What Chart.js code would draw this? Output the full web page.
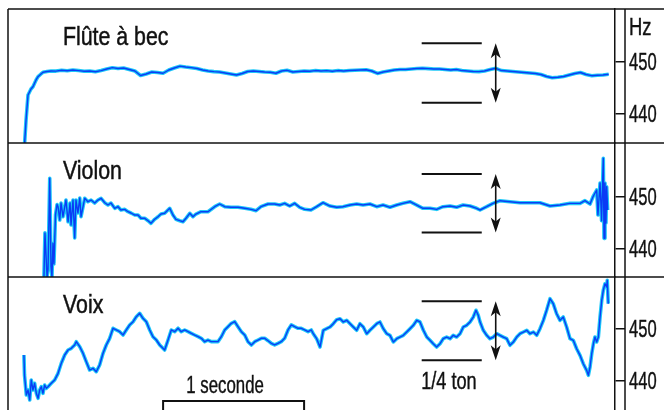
<!DOCTYPE html>
<html><head><meta charset="utf-8">
<script src="https://cdn.jsdelivr.net/npm/chart.js@4.4.1/dist/chart.umd.min.js"></script>
<style>
html,body{margin:0;padding:0;background:#fff;overflow:hidden;width:664px;height:410px}
#wrap{position:absolute;left:0;top:0;width:664px;height:411px}
canvas{display:block}
</style>
</head><body><div id="wrap"><canvas id="c" width="664" height="411"></canvas></div>
<script>
// ---- data (time in seconds, pitch in Hz) ----
const panelNames = ['Flûte à bec', 'Violon', 'Voix'];
const hzTicks = [440, 450];
const panelMin = [434.29, 434.47, 434.08];
const panelMax = [460.21, 460.39, 460.0];

const fluteT = [0.118,0.128,0.142,0.163,0.177,0.199,0.213,0.234,0.248,0.277,0.305,
 0.34,0.38,0.42,0.46,0.50,0.54,0.58,0.62,0.66,0.70,
 0.74,0.78,0.82,0.86,0.90,0.94,0.98,1.02,1.06,1.10,
 1.14,1.18,1.22,1.26,1.30,1.34,1.38,1.42,1.46,1.50,
 1.54,1.58,1.62,1.66,1.70,1.74,1.78,1.82,1.86,1.90,
 1.94,1.98,2.02,2.06,2.10,2.14,2.18,2.22,2.26,2.30,
 2.34,2.38,2.42,2.46,2.50,2.54,2.58,2.62,2.66,2.70,
 2.74,2.78,2.82,2.86,2.90,2.94,2.98,3.02,3.06,3.10,
 3.14,3.18,3.22,3.26,3.30,3.34,3.38,3.42,3.46,3.50,
 3.54,3.58,3.62,3.66,3.70,3.74,3.78,3.82,3.86,3.90,
 3.94,3.98,4.02,4.06,4.10,4.14,4.18,4.22,4.26];
const fluteHz = [434.3,438.74,443.58,444.74,445.18,446.48,447.12,447.64,447.97,448.12,448.22,
 448.2,448.35,448.26,448.41,448.3,448.16,448.22,448.07,448.3,448.6,
 448.86,448.7,448.8,448.5,448.22,447.35,447.64,448.03,447.93,447.78,
 448.41,448.8,449.15,448.99,448.86,448.7,448.41,448.22,448.09,448.03,
 447.83,447.64,447.45,447.74,448.12,448.22,448.12,448.03,447.97,447.78,
 448.22,448.35,448.03,448.12,448.22,448.16,448.3,448.22,448.28,448.16,
 448.3,448.22,448.3,448.37,448.41,448.47,448.22,447.74,448.03,448.22,
 448.41,448.5,448.5,448.6,448.7,448.74,448.67,448.6,448.6,448.5,
 448.41,448.5,448.3,448.22,448.12,448.09,448.22,448.5,448.74,448.3,
 448.22,448.12,448.03,447.93,447.83,447.74,447.54,447.16,446.92,447.0,
 447.16,447.45,447.74,447.93,447.54,447.31,447.39,447.45,447.58];

const violinT = [0.255,0.262,0.277,0.284,0.296,0.305,0.312,0.319,0.326,0.337,
 0.348,0.355,0.367,0.376,0.390,0.411,0.426,0.440,0.447,0.461,
 0.473,0.482,0.496,0.509,0.518,0.544,0.567,0.589,0.615,0.638,
 0.660,0.686,0.709,0.730,0.757,0.780,0.801,0.828,0.851,0.872,
 0.899,0.922,0.943,0.970,0.993,1.014,1.040,1.064,1.085,1.111,
 1.147,1.170,1.191,1.218,1.241,1.262,1.289,1.312,1.333,1.369,
 1.418,1.466,1.501,1.537,1.582,1.631,1.679,1.723,1.759,1.794,
 1.844,1.891,1.927,1.962,1.998,2.033,2.069,2.104,2.149,2.189,
 2.234,2.284,2.331,2.376,2.426,2.473,2.518,2.567,2.615,2.660,
 2.709,2.757,2.801,2.851,2.899,2.943,2.993,3.040,3.085,3.135,
 3.182,3.227,3.277,3.324,3.348,3.395,3.440,3.489,3.560,3.631,
 3.702,3.773,3.844,3.915,3.986,4.057,4.092,4.128,4.149,4.175,
 4.184,4.199,4.210,4.222,4.227,4.234,4.241,4.246,4.253];
const violinHz = [434.5,443.0,434.5,436.0,453.56,436.5,434.5,441.0,437.0,446.5,
 448.5,448.07,445.49,448.78,446.13,449.36,445.16,448.78,444.53,449.36,
 442.01,449.36,446.85,449.75,446.13,449.69,449.03,449.36,448.78,449.36,
 449.69,448.84,448.39,448.78,447.76,448.07,447.43,447.56,447.1,446.85,
 446.46,446.46,445.82,445.82,445.36,444.85,445.63,446.13,446.65,446.79,
 447.76,446.46,445.63,445.36,445.16,445.82,446.79,446.13,446.65,447.1,
 447.1,448.07,448.59,448.07,447.95,447.95,447.76,447.56,447.3,448.07,
 448.59,448.59,448.39,448.72,448.2,448.72,447.95,447.56,447.43,448.07,
 448.84,448.2,447.95,448.07,448.39,448.59,448.39,448.59,448.07,448.39,
 447.95,448.39,448.72,449.03,448.39,447.76,447.76,447.56,448.07,448.2,
 447.95,448.39,448.2,447.76,447.43,448.07,448.72,449.23,449.03,448.84,
 448.84,448.84,448.2,448.39,448.72,448.72,449.23,448.59,450.0,451.3,
 446.46,452.65,445.36,457.43,441.95,452.65,444.91,451.93,447.43];

const voiceT = [0.113,0.117,0.130,0.142,0.154,0.165,0.177,0.189,0.201,0.213,
 0.225,0.236,0.248,0.260,0.272,0.284,0.307,0.331,0.355,0.378,
 0.402,0.426,0.449,0.473,0.484,0.509,0.532,0.555,0.579,0.603,
 0.626,0.650,0.674,0.697,0.721,0.745,0.768,0.792,0.816,0.839,
 0.863,0.887,0.910,0.934,0.957,0.981,1.005,1.028,1.052,1.076,
 1.099,1.111,1.135,1.158,1.182,1.206,1.229,1.253,1.277,1.300,
 1.324,1.348,1.371,1.395,1.418,1.442,1.466,1.489,1.513,1.537,
 1.560,1.584,1.608,1.631,1.655,1.679,1.702,1.726,1.750,1.773,
 1.796,1.821,1.844,1.867,1.891,1.915,1.938,1.962,1.986,2.009,
 2.033,2.057,2.080,2.104,2.128,2.151,2.165,2.189,2.213,2.236,
 2.260,2.284,2.307,2.331,2.355,2.378,2.402,2.426,2.449,2.473,
 2.496,2.520,2.544,2.567,2.591,2.615,2.638,2.662,2.686,2.709,
 2.733,2.757,2.780,2.804,2.828,2.851,2.875,2.899,2.922,2.946,
 2.970,2.993,3.016,3.040,3.064,3.087,3.111,3.135,3.158,3.182,
 3.206,3.229,3.253,3.277,3.300,3.319,3.335,3.348,3.371,3.395,
 3.418,3.442,3.466,3.489,3.513,3.537,3.560,3.584,3.608,3.631,
 3.655,3.679,3.702,3.726,3.750,3.773,3.797,3.820,3.844,3.867,
 3.891,3.915,3.938,3.962,3.986,4.009,4.033,4.057,4.080,4.104,
 4.116,4.128,4.140,4.152,4.163,4.175,4.187,4.199,4.211,4.222,
 4.234,4.246,4.250,4.257];
const voiceHz = [444.91,441.04,437.18,438.14,436.21,440.08,438.14,439.44,437.5,436.54,
 438.14,438.78,437.5,439.11,438.47,438.78,439.44,440.08,441.37,443.31,
 444.91,445.88,446.21,446.85,447.49,446.52,445.24,443.62,442.01,442.34,
 441.68,442.98,445.24,446.85,448.14,450.08,449.75,449.42,448.78,449.75,
 450.72,451.35,452.32,452.98,452.01,451.35,449.75,448.45,447.81,446.85,
 446.21,445.88,447.81,449.75,449.42,450.08,449.42,449.75,449.42,449.11,
 448.78,448.45,448.14,447.49,447.81,447.49,447.49,447.49,448.45,449.75,
 450.39,451.04,451.35,450.39,449.42,448.78,447.49,446.85,447.49,447.81,
 448.14,448.14,447.68,447.18,446.85,447.18,447.49,448.14,449.75,450.72,
 450.39,450.08,450.08,449.75,449.42,449.75,449.03,448.07,446.46,449.69,
 450.0,450.33,450.97,451.74,451.93,451.3,451.62,450.97,450.33,449.69,
 450.97,450.33,449.03,449.69,450.33,450.97,451.3,450.0,449.03,448.72,
 447.43,448.07,448.39,448.72,449.36,450.0,450.66,451.62,451.3,449.69,
 448.39,447.76,447.1,446.46,447.1,448.07,448.39,448.07,448.72,448.39,
 449.03,450.33,450.66,451.3,452.26,453.56,452.59,451.3,449.69,448.72,
 448.07,448.39,449.03,448.72,448.39,448.07,446.79,447.43,448.39,449.03,
 449.36,449.69,449.03,449.36,448.72,450.0,451.62,453.56,455.8,454.84,
 452.9,451.62,452.26,450.33,448.07,447.76,446.13,444.85,443.23,441.95,
 440.99,442.59,445.16,447.1,448.39,447.43,448.39,452.26,455.49,457.43,
 458.7,458.07,459.36,454.84];

// quarter-tone guide bars (upper, lower Hz) per panel
const quarterToneHz = [[453.58, 442.09], [454.39, 443.09], [455.3, 443.89]];
const quarterToneTime = [2.934, 3.360];
const arrowTime = 3.459;
const oneSecondBar = [1.1, 2.1];

const FONT = "'Liberation Sans', Arial, sans-serif";
const CORE = '#0a3cf5', HALO = '#1ec8f8', INK = '#111111';

const series = [[fluteT, fluteHz], [violinT, violinHz], [voiceT, voiceHz]];
const datasets = [];
series.forEach(([T, H], i) => {
  const pts = T.map((t, k) => ({x: t, y: H[k]}));
  datasets.push({data: pts, yAxisID: 'y' + i, borderColor: HALO, borderWidth: 3.6, pointRadius: 0, order: 2, borderJoinStyle: 'round'});
  datasets.push({data: pts, yAxisID: 'y' + i, borderColor: CORE, borderWidth: 1.4, pointRadius: 0, order: 1, borderJoinStyle: 'round'});
});

function axis(i) {
  return {
    type: 'linear', position: 'right', stack: 'hz', stackWeight: 1,
    min: panelMin[i], max: panelMax[i],
    afterBuildTicks: s => { s.ticks = hzTicks.map(v => ({value: v})); },
    afterFit: s => { s.width = 49; s.paddingTop = 0; s.paddingBottom = 0; },
    grid: {drawOnChartArea: false, drawTicks: true, tickLength: 10, color: INK, lineWidth: 1.5},
    border: {display: true, color: INK, width: 1.5},
    ticks: {display: false}
  };
}

// narrow text: real text drawn with fillText, horizontally condensed, slightly emboldened
function narrowText(ctx, str, x, y, size, sx, weight) {
  ctx.save();
  ctx.font = size + 'px ' + FONT;
  ctx.textBaseline = 'alphabetic';
  ctx.textAlign = 'left';
  ctx.translate(x, y); ctx.scale(sx, 1);
  ctx.fillStyle = INK; ctx.strokeStyle = INK;
  ctx.fillText(str, 0, 0);
  if (weight) { ctx.lineWidth = weight; ctx.strokeText(str, 0, 0); }
  ctx.restore();
}

const overlay = {
  id: 'overlay',
  afterDraw(chart) {
    const ctx = chart.ctx, ca = chart.chartArea, xs = chart.scales.x;
    const ys = [chart.scales.y0, chart.scales.y1, chart.scales.y2];
    const W = chart.width;
    const line = (x1, y1, x2, y2) => { ctx.beginPath(); ctx.moveTo(x1, y1); ctx.lineTo(x2, y2); ctx.stroke(); };
    ctx.save();
    ctx.strokeStyle = INK; ctx.fillStyle = INK; ctx.lineWidth = 1.5;
    line(ca.left, ca.top, ca.left, ca.bottom);
    ys.forEach(s => line(ca.left, s.top, W, s.top));
    line(ca.right + 10, ca.top, ca.right + 10, ca.bottom);

    ys.forEach((s, i) => {
      // tick labels
      hzTicks.forEach(v => narrowText(ctx, String(v), ca.right + 14, s.getPixelForValue(v) + 8.5, 23, 0.72, 0.4));
      // panel title
      narrowText(ctx, panelNames[i], xs.getPixelForValue(0.39), s.top + 36, 26, 0.82, 0.5);
      // quarter-tone bars
      const [hi, lo] = quarterToneHz[i];
      const x1 = xs.getPixelForValue(quarterToneTime[0]), x2 = xs.getPixelForValue(quarterToneTime[1]);
      const yh = s.getPixelForValue(hi), yl = s.getPixelForValue(lo);
      ctx.lineWidth = 2;
      line(x1, yh, x2, yh); line(x1, yl, x2, yl);
      // double arrow
      const ax = xs.getPixelForValue(arrowTime);
      ctx.lineWidth = 1.6;
      line(ax, yh + 8, ax, yl - 8);
      const head = (yt, dir) => {
        ctx.beginPath(); ctx.moveTo(ax, yt);
        ctx.lineTo(ax - 5, yt + dir * 15); ctx.lineTo(ax, yt + dir * 11); ctx.lineTo(ax + 5, yt + dir * 15);
        ctx.closePath(); ctx.fill();
      };
      head(yh, 1); head(yl, -1);
    });

    // Hz unit
    narrowText(ctx, 'Hz', ca.right + 14, ca.top + 26, 23, 0.8, 0.4);
    // 1/4 ton
    narrowText(ctx, '1/4 ton', xs.getPixelForValue(2.93), 389, 23, 0.79, 0.4);
    // 1 seconde bracket
    narrowText(ctx, '1 seconde', xs.getPixelForValue(1.265), 393, 23, 0.73, 0.4);
    const b1 = xs.getPixelForValue(oneSecondBar[0]), b2 = xs.getPixelForValue(oneSecondBar[1]);
    ctx.lineWidth = 2;
    ctx.beginPath(); ctx.moveTo(b1, 412); ctx.lineTo(b1, 401); ctx.lineTo(b2, 401); ctx.lineTo(b2, 412); ctx.stroke();
    ctx.restore();
  }
};

new Chart(document.getElementById('c'), {
  type: 'line',
  data: {datasets},
  options: {
    responsive: false, animation: false, devicePixelRatio: 1,
    layout: {padding: {left: 8, top: 9, right: 0, bottom: 0}},
    plugins: {legend: {display: false}, tooltip: {enabled: false}},
    elements: {line: {tension: 0}},
    scales: {
      x: {type: 'linear', min: 0, max: 4.305, display: false},
      y0: axis(0), y1: axis(1), y2: axis(2)
    }
  },
  plugins: [overlay]
});
</script>
</body></html>
